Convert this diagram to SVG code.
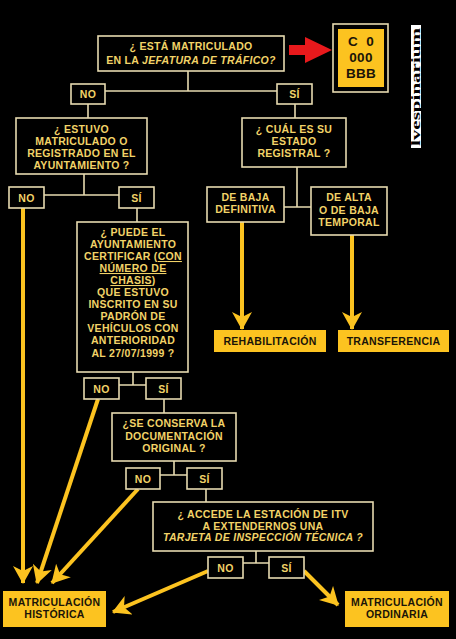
<svg xmlns="http://www.w3.org/2000/svg" width="456" height="639" viewBox="0 0 456 639">
<defs>
<style>
.bx{fill:#000;stroke:#e6dab0;stroke-width:1.6}
.yb{fill:#fcc320;stroke:none}
.t{font-family:"Liberation Sans",Arial,sans-serif;font-weight:bold;font-size:10.5px;fill:#f2d368;text-anchor:middle;letter-spacing:0.3px}
.tk{font-family:"Liberation Sans",Arial,sans-serif;font-weight:bold;font-size:10.5px;fill:#1a1408;text-anchor:middle;letter-spacing:0.3px}
.c{stroke:#e6dab0;stroke-width:1.6;fill:none}
.a{stroke:#fcc320;stroke-width:4;fill:none;marker-end:url(#ah)}
.i{font-style:italic}
.u{text-decoration:underline}
</style>
<marker id="ah" markerUnits="userSpaceOnUse" markerWidth="18" markerHeight="20" refX="17" refY="10" orient="auto">
<path d="M0,0 L18,10 L0,20 L5,10 z" fill="#fcc320"/>
</marker>
</defs>
<rect width="456" height="639" fill="#000"/>

<g id="connectors">
<path class="c" d="M188,71 V91 M105,91 H277 M88,104 V118 M295,104 V118"/>
<path class="c" d="M84,174 V195 M44,195 H119 M137,208 V222"/>
<path class="c" d="M297,167 V207 M284,207 H311"/>
<path class="c" d="M133,372 V385 M119,385 H146 M164,399 V413"/>
<path class="c" d="M174,461 V475 M160,475 H187 M206,489 V502"/>
<path class="c" d="M256,551 V563 M243,563 H269"/>
<line class="a" x1="242" y1="222" x2="242" y2="329"/>
<line class="a" x1="352" y1="235" x2="352" y2="329"/>
<line class="a" x1="23" y1="208" x2="23" y2="583"/>
<line class="a" x1="98" y1="399" x2="37" y2="583"/>
<line class="a" x1="138" y1="489" x2="52" y2="583"/>
<line class="a" x1="208" y1="571" x2="113" y2="612"/>
<line class="a" x1="304" y1="571" x2="338" y2="605"/>
<path d="M289,45 H305 V37 L332,50 L305,63 V55 H289 z" fill="#e8191c"/>
</g>

<g id="q1">
<rect class="bx" x="98" y="36" width="186" height="35"/>
<text class="t" x="191" y="50">¿ ESTÁ MATRICULADO</text>
<text class="t" x="191" y="64">EN LA <tspan class="i">JEFATURA DE TRÁFICO?</tspan></text>
</g>

<g id="plate">
<rect x="333" y="24" width="55" height="68" fill="#000" stroke="#e6dab0" stroke-width="1.6"/>
<rect class="yb" x="338" y="29" width="46" height="58"/>
<text class="tk" x="361" y="46" style="font-size:13.5px" xml:space="preserve">C  0</text>
<text class="tk" x="361" y="62" style="font-size:13.5px">000</text>
<text class="tk" x="361" y="78" style="font-size:13.5px">BBB</text>
</g>

<g id="watermark">
<rect x="411" y="25" width="10" height="123" fill="#fff"/>
<text x="0" y="0" transform="translate(420,146) rotate(-90)" textLength="118" lengthAdjust="spacingAndGlyphs" style="font-family:'Liberation Serif',serif;font-weight:bold;font-size:12px;fill:#000">lvespinarium</text>
</g>

<g id="no1"><rect class="bx" x="71" y="84" width="34" height="20"/><text class="t" x="88" y="98">NO</text></g>
<g id="si1"><rect class="bx" x="277" y="84" width="35" height="20"/><text class="t" x="294.5" y="98">SÍ</text></g>

<g id="q2">
<rect class="bx" x="16" y="118" width="131" height="56"/>
<text class="t" x="81.5" y="133">¿ ESTUVO</text>
<text class="t" x="81.5" y="145">MATRICULADO O</text>
<text class="t" x="81.5" y="157">REGISTRADO EN EL</text>
<text class="t" x="81.5" y="169">AYUNTAMIENTO ?</text>
</g>

<g id="q3">
<rect class="bx" x="242" y="118" width="104" height="49"/>
<text class="t" x="294" y="133">¿ CUÁL ES SU</text>
<text class="t" x="294" y="145">ESTADO</text>
<text class="t" x="294" y="157">REGISTRAL ?</text>
</g>

<g id="no2"><rect class="bx" x="9" y="187" width="35" height="21"/><text class="t" x="26.5" y="201.5">NO</text></g>
<g id="si2"><rect class="bx" x="119" y="187" width="35" height="21"/><text class="t" x="136.5" y="201.5">SÍ</text></g>

<g id="baja">
<rect class="bx" x="207" y="187" width="77" height="35"/>
<text class="t" x="245.5" y="201">DE BAJA</text>
<text class="t" x="245.5" y="213">DEFINITIVA</text>
</g>

<g id="alta">
<rect class="bx" x="311" y="187" width="76" height="48"/>
<text class="t" x="349" y="201">DE ALTA</text>
<text class="t" x="349" y="213.5">O DE BAJA</text>
<text class="t" x="349" y="226">TEMPORAL</text>
</g>

<g id="rehab">
<rect class="yb" x="214" y="330" width="112" height="22"/>
<text class="tk" x="270" y="345">REHABILITACIÓN</text>
</g>
<g id="transf">
<rect class="yb" x="338" y="330" width="111" height="22"/>
<text class="tk" x="393.5" y="345">TRANSFERENCIA</text>
</g>

<g id="q4">
<rect class="bx" x="77" y="222" width="111" height="150"/>
<text class="t" x="133" y="236">¿ PUEDE EL</text>
<text class="t" x="133" y="248">AYUNTAMIENTO</text>
<text class="t" x="133" y="260">CERTIFICAR (<tspan class="u">CON</tspan></text>
<text class="t u" x="133" y="272">NÚMERO DE</text>
<text class="t" x="133" y="284"><tspan class="u">CHASIS</tspan>)</text>
<text class="t" x="133" y="296">QUE ESTUVO</text>
<text class="t" x="133" y="308">INSCRITO EN SU</text>
<text class="t" x="133" y="320">PADRÓN DE</text>
<text class="t" x="133" y="332">VEHÍCULOS CON</text>
<text class="t" x="133" y="344">ANTERIORIDAD</text>
<text class="t" x="133" y="357">AL 27/07/1999 ?</text>
</g>

<g id="no3"><rect class="bx" x="84" y="378" width="35" height="21"/><text class="t" x="101.5" y="392.5">NO</text></g>
<g id="si3"><rect class="bx" x="146" y="378" width="35" height="21"/><text class="t" x="163.5" y="392.5">SÍ</text></g>

<g id="q5">
<rect class="bx" x="112" y="413" width="124" height="48"/>
<text class="t" x="174" y="427">¿SE CONSERVA LA</text>
<text class="t" x="174" y="440">DOCUMENTACIÓN</text>
<text class="t" x="174" y="452">ORIGINAL ?</text>
</g>

<g id="no4"><rect class="bx" x="126" y="468" width="34" height="21"/><text class="t" x="143" y="482.5">NO</text></g>
<g id="si4"><rect class="bx" x="187" y="468" width="35" height="21"/><text class="t" x="204.5" y="482.5">SÍ</text></g>

<g id="q6">
<rect class="bx" x="153" y="502" width="220" height="49"/>
<text class="t" x="263" y="518">¿ ACCEDE LA ESTACIÓN DE ITV</text>
<text class="t" x="263" y="529.5">A EXTENDERNOS UNA</text>
<text class="t i" x="263" y="541">TARJETA DE INSPECCIÓN TÉCNICA ?</text>
</g>

<g id="no5"><rect class="bx" x="208" y="557" width="35" height="21"/><text class="t" x="225.5" y="571.5">NO</text></g>
<g id="si5"><rect class="bx" x="269" y="557" width="35" height="21"/><text class="t" x="286.5" y="571.5">SÍ</text></g>

<g id="historica">
<rect class="yb" x="3" y="591" width="103" height="36"/>
<text class="tk" x="54.5" y="606">MATRICULACIÓN</text>
<text class="tk" x="54.5" y="618">HISTÓRICA</text>
</g>
<g id="ordinaria">
<rect class="yb" x="345" y="591" width="104" height="36"/>
<text class="tk" x="397" y="606">MATRICULACIÓN</text>
<text class="tk" x="397" y="618">ORDINARIA</text>
</g>
</svg>
